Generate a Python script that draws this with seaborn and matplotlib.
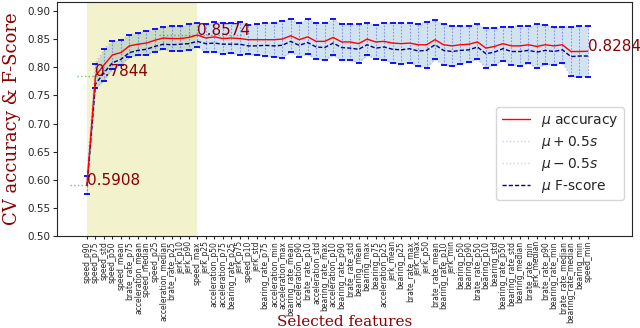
import numpy as np
import pandas as pd
import matplotlib
matplotlib.use("Agg")
import matplotlib.pyplot as plt
import seaborn as sns

features = [
    "speed_p90", "speed_p75", "speed_std", "speed_p50", "speed_mean",
    "brate_rate_p75", "acceleration_mean", "speed_median", "speed_p25",
    "acceleration_median", "brate_rate_p25", "jerk_p10", "jerk_p90", "speed_max",
    "jerk_p25", "acceleration_p50", "acceleration_p75", "bearing_rate_p25",
    "jerk_p75", "speed_p10", "jerk_std", "bearing_rate_p75", "acceleration_min",
    "acceleration_max", "bearing_rate_mean", "acceleration_p90", "brate_rate_p10",
    "acceleration_std", "bearing_rate_max", "acceleration_p10", "bearing_rate_p90",
    "brate_rate_std", "bearing_mean", "bearing_max", "bearing_p75",
    "acceleration_p25", "jerk_mean", "bearing_p25", "brate_rate_max", "jerk_max",
    "jerk_p50", "brate_rate_mean", "bearing_rate_p10", "jerk_min", "bearing_p50",
    "bearing_p90", "brate_rate_p50", "bearing_p10", "bearing_std",
    "bearing_rate_p50", "bearing_rate_std", "bearing_median", "brate_rate_min",
    "jerk_median", "brate_rate_p90", "bearing_rate_min", "brate_rate_median",
    "bearing_rate_median", "bearing_min", "speed_min",
]

acc_mean = [
    0.5908, 0.7844, 0.804, 0.822, 0.826, 0.838, 0.841, 0.843, 0.848, 0.852,
    0.851, 0.851, 0.853, 0.8574, 0.852, 0.854, 0.851, 0.852, 0.851, 0.849,
    0.849, 0.849, 0.849, 0.850, 0.856, 0.849, 0.854, 0.846, 0.846, 0.853,
    0.845, 0.845, 0.842, 0.850, 0.845, 0.846, 0.843, 0.842, 0.843, 0.840,
    0.840, 0.849, 0.840, 0.838, 0.840, 0.841, 0.845, 0.834, 0.837, 0.842,
    0.838, 0.838, 0.840, 0.837, 0.840, 0.838, 0.840, 0.828, 0.828, 0.8284,
]

acc_half_std = [
    0.016, 0.022, 0.028, 0.025, 0.022, 0.020, 0.020, 0.021, 0.020, 0.020,
    0.022, 0.022, 0.023, 0.021, 0.025, 0.026, 0.027, 0.027, 0.029, 0.026,
    0.027, 0.029, 0.030, 0.033, 0.029, 0.030, 0.031, 0.032, 0.033, 0.032,
    0.032, 0.032, 0.034, 0.029, 0.030, 0.033, 0.035, 0.036, 0.035, 0.037,
    0.041, 0.035, 0.036, 0.036, 0.034, 0.032, 0.031, 0.035, 0.033, 0.030,
    0.034, 0.036, 0.033, 0.039, 0.035, 0.034, 0.032, 0.044, 0.046, 0.045,
]

fscore_mean = [
    0.589, 0.770, 0.790, 0.808, 0.814, 0.826, 0.830, 0.832, 0.837, 0.841,
    0.840, 0.841, 0.842, 0.846, 0.842, 0.843, 0.841, 0.841, 0.841, 0.838,
    0.838, 0.839, 0.838, 0.839, 0.846, 0.839, 0.844, 0.836, 0.835, 0.843,
    0.835, 0.834, 0.832, 0.840, 0.834, 0.836, 0.832, 0.831, 0.833, 0.829,
    0.830, 0.840, 0.830, 0.828, 0.830, 0.831, 0.836, 0.824, 0.827, 0.833,
    0.828, 0.828, 0.830, 0.827, 0.830, 0.828, 0.831, 0.819, 0.820, 0.820,
]

annotated = [0, 1, 13, 59]
yticks = [0.50, 0.55, 0.60, 0.65, 0.70, 0.75, 0.80, 0.85, 0.90]

sns.set_style("ticks")
plt.rcParams['font.family'] = ['DejaVu Sans']
plt.rcParams['mathtext.fontset'] = 'dejavusans'

fig, ax = plt.subplots(figsize=(6.4, 3.28), dpi=100)
fig.subplots_adjust(left=0.089, right=0.9875, top=0.994, bottom=0.28)

x = np.arange(len(features))
acc = np.array(acc_mean)
half = np.array(acc_half_std)
df = pd.DataFrame({
    "x": x,
    "acc": acc,
    "hi": acc + half,
    "lo": acc - half,
    "f": np.array(fscore_mean),
})

# selected-feature region
ax.axvspan(0, 13, color='y', alpha=0.2, lw=0, zorder=0)
ax.fill_between(df["x"], df["lo"], df["hi"], color='C0', alpha=0.2, lw=0, zorder=1)

eb = ax.errorbar(df["x"], df["acc"], yerr=half, fmt='none', ecolor='blue',
                 elinewidth=0.8, capsize=2, capthick=1.3, zorder=2)
eb[2][0].set_linestyle((0, (1.5, 1.5)))
eb[2][0].set_alpha(0.35)

sns.lineplot(data=df, x="x", y="acc", color='red', lw=1, label=r'$\mu$ accuracy',
             ax=ax, zorder=4)
sns.lineplot(data=df, x="x", y="hi", color='blue', lw=1, ls=':', alpha=0.2,
             label=r'$\mu + 0.5s$', ax=ax, zorder=3)
sns.lineplot(data=df, x="x", y="lo", color='blue', lw=1, ls=':', alpha=0.2,
             label=r'$\mu - 0.5s$', ax=ax, zorder=3)
sns.lineplot(data=df, x="x", y="f", color='darkblue', lw=1, ls=(0, (3, 1.5)),
             label=r'$\mu$ F-score', ax=ax, zorder=3)

# guide lines and value annotations
guide_spans = {0: (-2, 0), 1: (-1.2, 1.2), 13: (8.5, 18.5)}
for i, (a, b) in guide_spans.items():
    ax.hlines(acc[i], a, b, colors='green', linestyles=':', lw=1, alpha=0.5, zorder=3)
for i in annotated:
    ax.text(i, acc[i], f"{acc[i]:.4f}", color='darkred', fontsize=11,
            ha='left', va='baseline', zorder=6, clip_on=False)

ax.set_xlim(-3.53, 64.2)
ax.set_ylim(0.5, 0.916)
ax.set_xticks(x)
ax.set_xticklabels(features, rotation=90, fontsize=5.5)
ax.set_yticks(yticks)
ax.set_yticklabels([f"{v:.2f}" for v in yticks], fontsize=7.5)
ax.tick_params(axis='x', length=2, pad=1.5)
ax.tick_params(axis='y', length=3, pad=2)

ax.set_xlabel("Selected features", family='DejaVu Serif', color='darkred', fontsize=11)
ax.xaxis.set_label_coords(0.5, -0.365)
ax.xaxis.label.set_va('center')
ax.set_ylabel("CV accuracy & F-Score", family='DejaVu Serif', color='darkred', fontsize=13)

ax.legend(loc='lower right', bbox_to_anchor=(0.986, 0.154), borderaxespad=0,
          fontsize=10, labelspacing=0.35, handlelength=2, framealpha=0.8)

fig.savefig("out.png", dpi=100)
